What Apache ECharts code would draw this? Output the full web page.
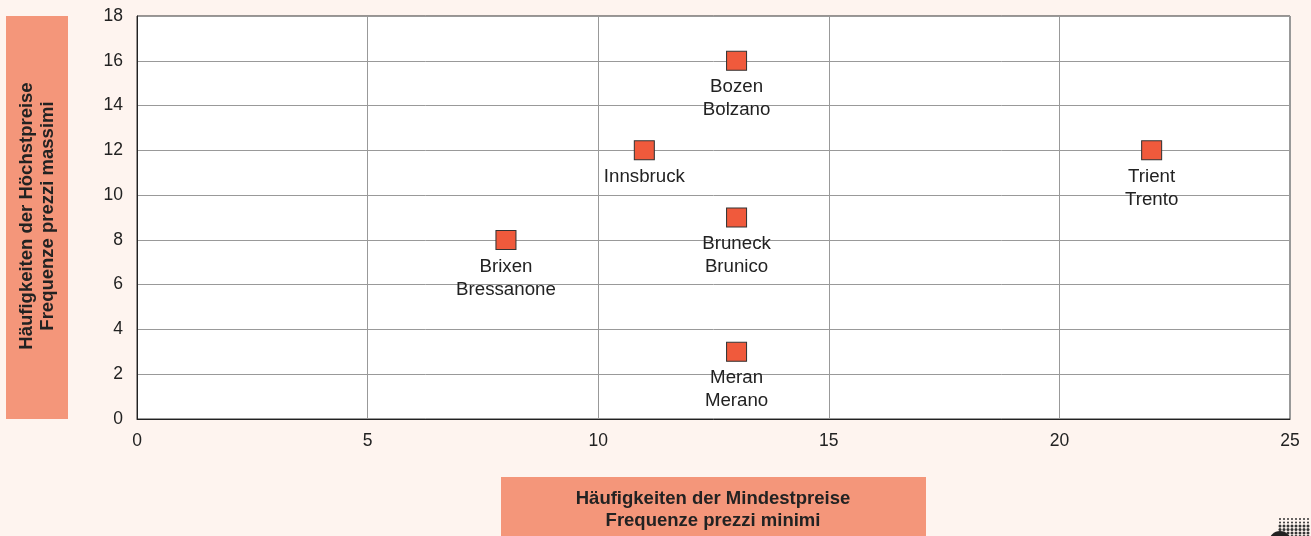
<!DOCTYPE html>
<html><head><meta charset="utf-8">
<script src="https://cdn.jsdelivr.net/npm/echarts@6/dist/echarts.min.js"></script>
<style>html,body{margin:0;padding:0;background:#FEF4EF;}#c{width:1311px;height:536px;}</style>
</head><body><div id="c"></div>
<script>
const cities = ["Brixen\nBressanone","Innsbruck","Bozen\nBolzano","Bruneck\nBrunico","Meran\nMerano","Trient\nTrento"];
const minFreq = [8,11,13,13,13,22];
const maxFreq = [8,12,16,9,3,12];
const xTitle = "Häufigkeiten der Mindestpreise\nFrequenze prezzi minimi";
const yTitle = "Häufigkeiten der Höchstpreise\nFrequenze prezzi massimi";

const font = "'Liberation Sans', Arial, sans-serif";
const logo = [];
for (let r = 0; r < 6; r++) {
  for (let c = 0; c < 8; c++) {
    const x = 1280 + c * 4, y = 519 + r * 3.5;
    if (x > 1311) continue;
    const big = r >= 2;
    logo.push({type:'circle', shape:{cx:x, cy:y, r: big ? 1.5 : 1}, style:{fill:'#333'}, silent:true});
  }
}
logo.push({type:'circle', shape:{cx:1280, cy:542, r:11}, style:{fill:'#222'}, silent:true});

const chart = echarts.init(document.getElementById('c'));
chart.setOption({
  backgroundColor: '#FEF4EF',
  animation: false,
  grid: {left:137, right:21, top:16, bottom:117, show:true, backgroundColor:'#FFFFFF', borderColor:'#333', borderWidth:1, containLabel:false},
  xAxis: {type:'value', min:0, max:25, interval:5,
    axisLine:{show:true, onZero:false, lineStyle:{color:'#222'}}, axisTick:{show:false},
    axisLabel:{color:'#222', fontSize:17.5, fontFamily:font, margin:13},
    splitLine:{show:true, lineStyle:{color:'#999', width:1}}},
  yAxis: {type:'value', min:0, max:18, interval:2,
    axisLine:{show:true, onZero:false, lineStyle:{color:'#222'}}, axisTick:{show:false},
    axisLabel:{color:'#222', fontSize:17.5, fontFamily:font, margin:14},
    splitLine:{show:true, lineStyle:{color:'#999', width:1}}},
  series: [{
    type:'scatter', symbol:'rect', symbolSize:[20,19],
    itemStyle:{color:'#F05A3C', borderColor:'#333', borderWidth:1, opacity:1},
    label:{show:true, position:'bottom', distance:5, color:'#222', fontSize:18.7, fontFamily:font, lineHeight:23, align:'center',
      formatter: p => cities[p.dataIndex]},
    emphasis:{disabled:true},
    data: minFreq.map((x,i)=>[x, maxFreq[i]])
  }],
  graphic: [
    {type:'rect', shape:{x:6, y:16, width:62, height:403}, style:{fill:'#F4967A'}},
    {type:'text', x:37, y:216, rotation:Math.PI/2, style:{text:yTitle, fill:'#222', font:'bold 18.5px '+font, align:'center', verticalAlign:'middle', lineHeight:21}},
    {type:'rect', shape:{x:501, y:477, width:425, height:62}, style:{fill:'#F4967A'}},
    {type:'text', x:713, y:510, style:{text:xTitle, fill:'#222', font:'bold 18.5px '+font, align:'center', verticalAlign:'middle', lineHeight:22}}
  ].concat(logo)
});
</script></body></html>
